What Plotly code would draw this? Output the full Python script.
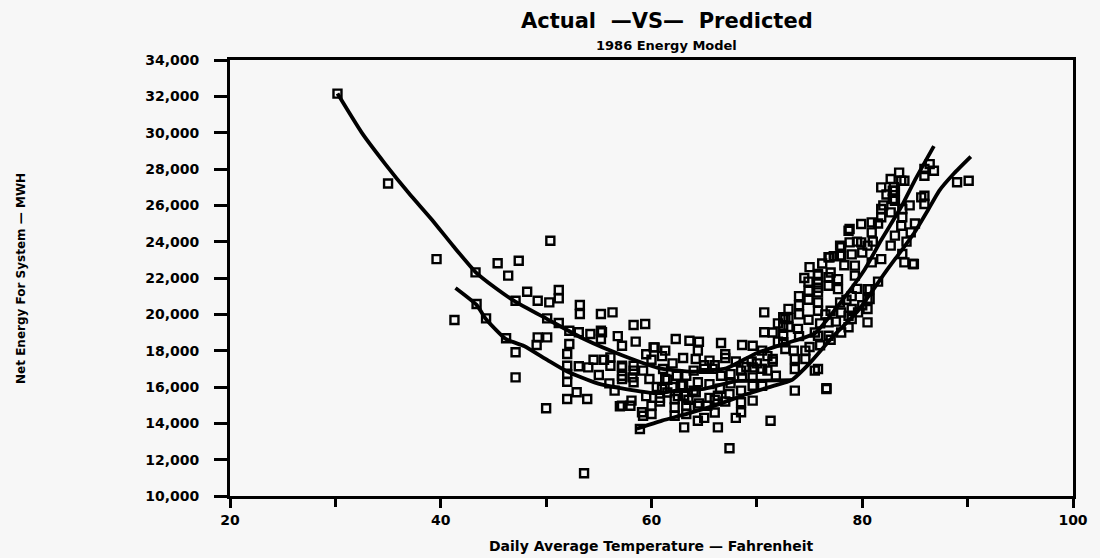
import plotly.graph_objects as go

# ---- data (temperature F, energy MWH) ----
act_temp = [
    30.2, 35.0, 39.6, 45.4, 47.4, 50.4, 46.4, 43.3, 48.2, 51.2, 51.2, 49.2, 50.3, 47.1,
    53.2, 53.2, 55.2, 56.3, 58.3, 59.4, 41.3, 43.4, 44.3, 46.2, 47.1, 47.1, 50.1, 51.2,
    49.2, 50.1, 49.1, 52.2, 53.1, 54.2, 55.2, 55.2, 52.2, 52.0, 52.0, 53.1, 54.0, 52.0,
    52.0, 55.0, 56.1, 57.2, 56.1, 57.2, 58.3, 59.2, 57.2, 58.2, 60.2, 52.0, 52.9, 53.9,
    50.0, 57.0, 58.1, 59.1, 53.6,
    70.7, 55.3, 60.3, 61.3, 62.3, 63.6, 64.5, 66.6, 68.6, 69.6, 70.7, 72.5, 72.5, 72.5,
    72.5, 73.6, 75.5, 76.6, 73.6, 71.3, 67.4, 66.3, 63.1, 59.2, 57.2, 58.9, 58.0, 60.0,
    62.2, 63.3, 64.4, 62.2, 63.3, 64.4, 65.3, 68.5, 68.5, 69.6, 68.5, 69.6, 70.5, 71.8,
    59.8, 61.1, 62.4, 63.3, 64.4, 65.5, 66.6, 67.5, 68.6, 69.6, 57.2, 58.3, 57.2, 58.3,
    61.3, 64.2, 65.5, 64.4, 69.6, 70.5, 71.5, 72.7, 74.6, 74.6, 73.6, 62.2, 63.1, 64.2,
    66.3, 67.4, 60.0,
    72.7, 75.8, 75.8, 75.8, 75.8, 75.8, 76.8, 76.8, 76.9, 78.0, 78.0, 78.8, 79.9, 80.9,
    78.8, 79.9, 80.9, 81.8, 81.8, 81.8, 82.7, 83.7, 83.1, 83.1, 81.8, 84.0, 84.9, 85.9,
    85.9, 82.7, 83.7, 83.1, 82.7, 83.8, 80.5, 80.9, 77.7, 77.7, 80.5, 80.5, 80.5, 79.0,
    79.0, 76.8, 77.9, 79.3, 79.3,
    89.0, 90.1, 86.4, 86.8, 85.9, 84.0, 82.9, 82.9, 83.8, 83.8, 85.6, 85.9, 78.7, 84.6,
    77.9, 77.9, 76.8, 84.8, 75.8, 75.8, 75.8, 80.7, 80.7, 78.7, 79.6, 80.5, 78.7, 76.8,
    75.8, 76.6,
    73.0, 73.0, 73.0, 74.0, 74.0, 74.0, 74.9, 74.9, 74.9, 73.9, 74.9, 72.0, 71.5, 72.0,
    76.0, 77.0, 78.0, 77.5, 76.5, 78.5, 79.5, 70.0, 71.0, 67.0, 65.0, 61.0, 62.0, 60.8,
    66.0, 70.4, 71.0, 63.0, 65.8, 69.0,
    60.5, 61.5, 62.5, 63.5, 64.5, 65.5, 66.5, 67.5, 68.5, 69.5, 70.5, 71.5, 60.0, 61.0,
    62.0, 63.0, 64.0, 65.0, 66.0, 67.0, 68.0, 61.5, 62.8, 64.0, 66.0, 67.0, 68.0, 65.0,
    59.5, 60.8, 56.0, 56.5, 55.5, 54.5, 56.8, 58.5, 59.5,
    74.5, 75.0, 76.2, 77.0, 77.3, 78.3, 79.0, 79.5, 80.0, 81.0, 81.5, 82.0, 82.3, 83.0,
    83.5, 84.5, 85.0, 84.2, 81.5, 80.0, 79.0, 78.0, 76.0, 75.5, 77.0, 73.5, 74.0, 75.0,
]
act_energy = [
    32150, 27200, 23040, 22810, 22950, 24050, 22130, 22310, 21240, 21340, 20880, 20750, 20660, 20750,
    20510, 20020, 20020, 20110, 19410, 19470, 19690, 20570, 19780, 18680, 17910, 16530, 19780, 19520,
    18730, 18730, 18310, 19100, 19010, 18920, 19100, 18640, 18370, 17820, 17170, 17140, 17080, 16710,
    16290, 16660, 17630, 18270, 17170, 17170, 17170, 16900, 16620, 16530, 18180, 15340, 15710, 15340,
    14830, 14940, 15250, 14610, 11250,
    20110, 19010, 18180, 18000, 18640, 18550, 18490, 18420, 18310, 18270, 19010, 19840, 19370, 18820,
    18460, 17540, 16900, 15890, 15800, 14140, 12630, 13780, 13780, 14420, 14970, 13690, 14970, 14970,
    14880, 14970, 14970, 14420, 14510, 14140, 14970, 15160, 14610, 15250, 15800, 16070, 16070, 16620,
    16440, 16990, 16620, 16620, 16260, 16160, 16620, 16710, 16530, 16530, 17080, 16900, 16440, 16260,
    16440, 17540, 17450, 18000, 17080, 18000, 17540, 18090, 18000, 17540, 16990, 15340, 15520, 15710,
    15520, 15610, 14510,
    19740, 22220, 21760, 21210, 20660, 20200, 22040, 21570, 23140, 23690, 23230, 24700, 24970, 25060,
    23960, 23960, 22860, 23040, 25800, 25340, 27450, 27350, 26800, 26250, 26990, 22860, 22770, 27630,
    26530, 25610, 24880, 24330, 23780, 23320, 23780, 24510, 21940, 21390, 21390, 20840, 20290, 20290,
    19740, 19560, 20660, 22680, 22130,
    27270, 27350, 28270, 27900, 28000, 27350, 26800, 26350, 25800, 25340, 26440, 26070, 24600, 24510,
    23780, 23230, 23140, 22770, 22130, 21460, 18820, 21390, 20840, 19920, 20110, 19560, 19290, 18820,
    16990, 15930,
    19300, 19800, 20300, 20000, 20500, 21000, 20800, 21300, 21800, 19200, 19700, 18500, 19000, 19500,
    18300, 18600, 19000, 19600, 20000, 20800, 21400, 17300, 17700, 17600, 17200, 15900, 16000, 15400,
    15300, 17000, 16900, 16100, 17000, 17100,
    16000, 15700, 15500, 15300, 15100, 15400, 15900, 16200, 16900, 17400, 17000, 17400, 17500, 17700,
    17300, 17600, 16900, 17000, 17200, 17800, 17400, 16400, 16100, 15800, 14600, 15200, 14300, 14300,
    15500, 15200, 16200, 15800, 17500, 17500, 18800, 18500, 17800,
    22000, 22600, 22800, 22300, 23200, 22700, 23300, 24000, 23400, 24000, 25000, 26000, 26600, 27000,
    27800, 26000, 25000, 24000, 21800, 20500, 21000, 20100, 19500, 19000, 20200, 18000, 18800, 18200,
]

# predicted curves
curve_a_temp = [30.2, 32.5, 34.7, 37.0, 39.1, 41.2, 43.3, 45.2, 47.0, 50.1, 53.6, 57.2, 60.8,
                63.9, 67.1, 69.9, 72.7, 75.5, 78.0, 80.2, 81.8, 83.7, 85.0, 86.8]
curve_a_energy = [32150, 30000, 28300, 26650, 25250, 23750, 22330, 21450, 20730, 19740, 18640,
                  17750, 17030, 16840, 17030, 17850, 18400, 18950, 20700, 22440, 24090, 25920,
                  27390, 29260]

curve_b_temp = [41.4, 43.4, 44.3, 46.2, 47.9, 50.1, 52.0, 54.8, 58.0, 60.5, 62.4, 65.0, 68.0,
                70.5, 73.3]
curve_b_energy = [21450, 20520, 19730, 18630, 18260, 17490, 16850, 16210, 15840, 15650, 15800,
                  15900, 16330, 16350, 16380]

curve_d_temp = [58.6, 61.0, 63.5, 66.1, 69.0, 71.5, 73.3, 75.0, 77.1, 79.6, 82.3, 84.9, 86.2,
                87.3, 88.7, 90.3]
curve_d_energy = [13700, 14150, 14550, 15000, 15600, 16050, 16380, 17300, 18700, 20200, 22400,
                  24450, 25700, 26800, 27750, 28680]

x_tick_vals = [20, 40, 60, 80, 100]
x_minor_vals = [30, 50, 70, 90]

BG = "#f7f7f7"
INK = "#000000"
FONT = "DejaVu Sans"

fig = go.Figure()

fig.add_trace(go.Scatter(
    x=act_temp, y=act_energy, mode="markers",
    marker=dict(symbol="square-open", size=8, color=INK, line=dict(width=2.4, color=INK)),
    showlegend=False, hoverinfo="x+y",
))
for tx, ty in [(curve_a_temp, curve_a_energy), (curve_b_temp, curve_b_energy),
               (curve_d_temp, curve_d_energy)]:
    fig.add_trace(go.Scatter(
        x=tx, y=ty, mode="lines",
        line=dict(color=INK, width=3.8, shape="spline", smoothing=0.5),
        showlegend=False, hoverinfo="skip",
    ))

fig.update_layout(
    width=1100, height=558,
    margin=dict(l=230, r=18, t=60, b=62),
    paper_bgcolor=BG, plot_bgcolor=BG,
    font=dict(family=FONT, color=INK),
    annotations=[
        dict(text="Actual  —VS—  Predicted", xref="paper", yref="paper", x=0.518, y=1.09,
             showarrow=False, xanchor="center", yanchor="middle",
             font=dict(size=21, family=FONT, color=INK, weight="bold")),
        dict(text="1986 Energy Model", xref="paper", yref="paper", x=0.518, y=1.033,
             showarrow=False, xanchor="center", yanchor="middle",
             font=dict(size=13, family=FONT, color=INK, weight="bold")),
        dict(text="Daily Average Temperature — Fahrenheit", xref="paper", yref="paper",
             x=0.5, y=-0.115, showarrow=False, xanchor="center", yanchor="middle",
             font=dict(size=14, family=FONT, color=INK, weight="bold")),
        dict(text="Net Energy For System — MWH", xref="paper", yref="paper",
             x=-0.248, y=0.5, showarrow=False, xanchor="center", yanchor="middle",
             textangle=-90, font=dict(size=12, family=FONT, color=INK, weight="bold")),
    ],
)

fig.update_xaxes(
    range=[20, 100], tickvals=x_tick_vals, ticks="outside", ticklen=9, tickwidth=2.5,
    tickcolor=INK, showline=True, linewidth=3, linecolor=INK, mirror=True,
    showgrid=False, zeroline=False,
    tickfont=dict(size=14, family=FONT, color=INK, weight="bold"),
    minor=dict(tickvals=x_minor_vals, ticks="outside", ticklen=8, tickwidth=2.5,
               tickcolor=INK, showgrid=False),
)
fig.update_yaxes(
    range=[10000, 34000], dtick=2000, tickformat=",d", ticks="outside", ticklen=13,
    tickwidth=2.5, tickcolor=INK, showline=True, linewidth=3, linecolor=INK, mirror=True,
    showgrid=False, zeroline=False, ticklabelstandoff=12,
    tickfont=dict(size=14, family=FONT, color=INK, weight="bold"),
)

fig.write_html("out.html")
